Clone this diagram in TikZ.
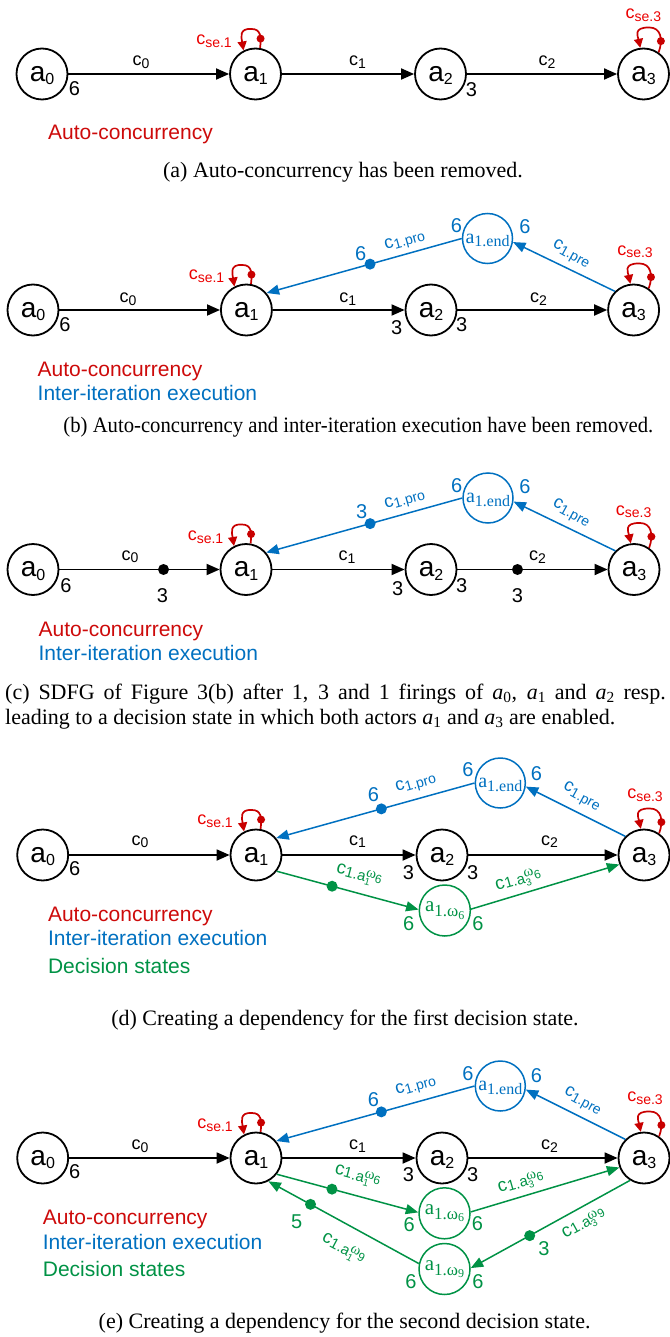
\documentclass[tikz,border=0pt]{standalone}
\usepackage{fontspec}
\usepackage{graphicx}
\setmainfont{Liberation Sans}
\newfontfamily\capfont{Liberation Serif}
\usetikzlibrary{arrows.meta,calc}
\definecolor{loopred}{RGB}{200,0,0}
\definecolor{labred}{RGB}{235,0,0}
\definecolor{legred}{RGB}{205,10,10}
\definecolor{myblue}{RGB}{0,112,192}
\definecolor{mygreen}{RGB}{0,146,69}
\newcommand\nA[1]{{\fontsize{28}{28}\selectfont a\smash{\raisebox{-3.5pt}{\fontsize{16}{16}\selectfont #1}}}}
\newcommand\nC[1]{{\fontsize{18}{18}\selectfont c\raisebox{-2.5pt}{\fontsize{14}{14}\selectfont #1}}}
\newcommand\nN[1]{{\fontsize{20}{20}\selectfont #1}}
\newcommand\nS[1]{{\capfont\fontsize{20}{20}\selectfont a\smash{\raisebox{-3.5pt}{\fontsize{16}{16}\selectfont #1}}}}
\newcommand\nW[1]{{\capfont\fontsize{21}{21}\selectfont a\raisebox{-5pt}{\fontsize{17}{17}\selectfont 1.ω}\raisebox{-7.5pt}{\fontsize{12}{12}\selectfont #1}}}
\newcommand\nCW[2]{{\fontsize{18.5}{18.5}\selectfont c\raisebox{-1.5pt}{\fontsize{15}{15}\selectfont 1.a}\rlap{\raisebox{-4.5pt}{\fontsize{10}{10}\selectfont #1}}\raisebox{4pt}{\capfont\fontsize{15}{15}\selectfont ω}{\fontsize{12}{12}\selectfont #2}}}
\newcommand\nI[1]{\textit{a}\textsubscript{#1}}
\newcommand\loopL[2]{\draw[slf] (#1.80) .. controls ($(#1)+(6,-38)$) and ($(#1)+(5,-45)$) .. ($(#1)+(-4,-45)$) node[rtok,pos=.3] (#2) {} .. controls ($(#1)+(-17,-46)$) and ($(#1)+(-14,-36)$) .. (#1.117);}
\newcommand\loopR[2]{\draw[slf] (#1.55) .. controls ($(#1)+(20,-35)$) and ($(#1)+(17,-46.5)$) .. ($(#1)+(6,-46.5)$) node[rtok,pos=.3] (#2) {} .. controls ($(#1)+(-11,-47)$) and ($(#1)+(-5.5,-37)$) .. (#1.97);}
\begin{document}
\begin{tikzpicture}[x=1pt,y=-1pt,
  act/.style={circle,draw,line width=1.8pt,minimum size=51pt,inner sep=0pt},
  bact/.style={circle,draw=myblue,line width=1.5pt,minimum size=50pt,inner sep=0pt,text=myblue},
  gact/.style={circle,draw=mygreen,line width=1.5pt,minimum size=51pt,inner sep=0pt,text=mygreen},
  blk/.style={line width=1.8pt,-{Triangle[length=13pt,width=11pt]}},
  blu/.style={myblue,line width=1.5pt,-{Triangle[length=12.5pt,width=10pt]}},
  grn/.style={mygreen,line width=1.5pt,-{Triangle[length=12.5pt,width=10pt]}},
  slf/.style={loopred,line width=1.7pt,-{Triangle[length=9pt,width=9pt]}},
  tok/.style={circle,fill,inner sep=0pt,minimum size=11pt},
  rtok/.style={circle,fill=loopred,inner sep=0pt,minimum size=8pt},
  lab/.style={inner sep=0pt},
  leg/.style={inner sep=0pt,anchor=base west,font={\fontsize{21}{21}\selectfont}},
  captxt/.style={inner sep=0pt,anchor=base,font={\capfont\fontsize{22}{22}\selectfont}},
]
\useasboundingbox (0,0) rectangle (669,1337);

% ---------------- (a)
\node[act] (a0a) at (42,74) {\nA{0}};
\node[act] (a1a) at (255.5,74) {\nA{1}};
\node[act] (a2a) at (440.5,74) {\nA{2}};
\node[act] (a3a) at (643.5,74) {\nA{3}};
\draw[blk] (a0a) -- (a1a);
\draw[blk] (a1a) -- (a2a);
\draw[blk] (a2a) -- (a3a);
\node[lab] (c0a) at (141,62) {\nC{0}};
\node[lab] (c1a) at (357.5,62) {\nC{1}};
\node[lab] (c2a) at (547,62) {\nC{2}};
\node[lab] (n0a) at (74.5,89) {\nN{6}};
\node[lab] (n2a) at (471.5,90) {\nN{3}};
\loopL{a1a}{r1a}
\loopR{a3a}{r3a}
\node[lab,text=labred] (s1a) at (214,41) {\nC{se.1}};
\node[lab,text=labred] (s3a) at (643.3,15) {\nC{se.3}};
\node[leg,text=legred] (la1) at (48,139.3) {Auto-concurrency};
\node[captxt] (capa) at (343,178) {(a) Auto-concurrency has been removed.};

% ---------------- (b)
\node[act] (a0b) at (33,310) {\nA{0}};
\node[act] (a1b) at (246.4,310) {\nA{1}};
\node[act] (a2b) at (431,310) {\nA{2}};
\node[act] (a3b) at (633.6,310) {\nA{3}};
\node[bact] (eb) at (487.5,238.5) {\nS{1.end}};
\draw[blk] (a0b) -- (a1b);
\draw[blk] (a1b) -- (a2b);
\draw[blk] (a2b) -- (a3b);
\node[lab] (c0b) at (128,299) {\nC{0}};
\node[lab] (c1b) at (347.8,299) {\nC{1}};
\node[lab] (c2b) at (538.5,299) {\nC{2}};
\node[lab] (n0b) at (65,325) {\nN{6}};
\node[lab] (n1b) at (396.8,328) {\nN{3}};
\node[lab] (n2b) at (461.7,325) {\nN{3}};
\draw[blu] (eb.180) -- (a1b.40) node[tok,pos=.47] (tb) {};
\node[lab,text=myblue] (ntb) at ($(tb)+(-9.4,-11)$) {\nN{6}};
\node[lab,text=myblue,rotate=16] (cpb) at (405,241.5) {\nC{1.pro}};
\node[lab,text=myblue] (nelb) at (456.5,226) {\nN{6}};
\node[lab,text=myblue] (nerb) at (525,227) {\nN{6}};
\draw[blu] (a3b.135) -- (eb.-8);
\node[lab,text=myblue,rotate=-29] (cqb) at (571,254.5) {\nC{1.pre}};
\loopL{a1b}{r1b}
\loopR{a3b}{r3b}
\node[lab,text=labred] (s1b) at (206.5,276) {\nC{se.1}};
\node[lab,text=labred] (s3b) at (635,251.7) {\nC{se.3}};
\node[leg,text=legred] (lb1) at (37.5,376.5) {Auto-concurrency};
\node[leg,text=myblue] (lb2) at (37.5,400) {Inter-iteration execution};
\node[captxt] (capb) at (358.4,432) {\scalebox{0.94}[1]{(b) Auto-concurrency and inter-iteration execution have been removed.}};

% ---------------- (c)
\node[act] (a0c) at (33,569.5) {\nA{0}};
\node[act] (a1c) at (246,569.5) {\nA{1}};
\node[act] (a2c) at (431,569.5) {\nA{2}};
\node[act] (a3c) at (634,569.5) {\nA{3}};
\node[bact] (ec) at (488,498) {\nS{1.end}};
\draw[blk] (a0c) -- (a1c) node[tok,pos=.65] (t0c) {};
\draw[blk] (a1c) -- (a2c);
\draw[blk] (a2c) -- (a3c) node[tok,pos=.4] (t2c) {};
\node[lab] (c0c) at (130,556.7) {\nC{0}};
\node[lab] (c1c) at (347,557) {\nC{1}};
\node[lab] (c2c) at (537.6,557) {\nC{2}};
\node[lab] (n0c) at (66,586) {\nN{6}};
\node[lab] (n1c) at (397.7,588.3) {\nN{3}};
\node[lab] (n2c) at (461.7,586) {\nN{3}};
\node[lab] (nt0c) at ($(t0c)+(-1,25.7)$) {\nN{3}};
\node[lab] (nt2c) at ($(t2c)+(0,26)$) {\nN{3}};
\draw[blu] (ec.180) -- (a1c.40) node[tok,pos=.47] (tc) {};
\node[lab,text=myblue] (ntc) at ($(tc)+(-8.5,-12)$) {\nN{3}};
\node[lab,text=myblue,rotate=16] (cpc) at (405,500.5) {\nC{1.pro}};
\node[lab,text=myblue] (nelc) at (456.6,486) {\nN{6}};
\node[lab,text=myblue] (nerc) at (525,487) {\nN{6}};
\draw[blu] (a3c.135) -- (ec.-8);
\node[lab,text=myblue,rotate=-29] (cqc) at (571,513.5) {\nC{1.pre}};
\loopL{a1c}{r1c}
\loopR{a3c}{r3c}
\node[lab,text=labred] (s1c) at (205.5,537.3) {\nC{se.1}};
\node[lab,text=labred] (s3c) at (633.6,511.7) {\nC{se.3}};
\node[leg,text=legred] (lc1) at (38.4,636.8) {Auto-concurrency};
\node[leg,text=myblue] (lc2) at (38.4,660.2) {Inter-iteration execution};
\node[captxt,anchor=base west] (capc1) at (5,699) {\makebox[660.6pt][s]{(c) SDFG of Figure 3(b) after 1, 3 and 1 firings of \nI{0}, \nI{1} and \nI{2} resp.}};
\node[captxt,anchor=base west] (capc2) at (5,724) {leading to a decision state in which both actors \nI{1} and \nI{3} are enabled.};

% ---------------- (d)
\node[act] (a0d) at (42.7,855) {\nA{0}};
\node[act] (a1d) at (256,855) {\nA{1}};
\node[act] (a2d) at (442,855) {\nA{2}};
\node[act] (a3d) at (644,855) {\nA{3}};
\node[bact] (ed) at (500.3,783) {\nS{1.end}};
\node[gact] (wd) at (444.8,910.5) {\nW{6}};
\draw[blk] (a0d) -- (a1d);
\draw[blk] (a1d) -- (a2d);
\draw[blk] (a2d) -- (a3d);
\node[lab] (c0d) at (140,841.7) {\nC{0}};
\node[lab] (c1d) at (357.6,841.7) {\nC{1}};
\node[lab] (c2d) at (549.6,841.7) {\nC{2}};
\node[lab] (n0d) at (74.7,869) {\nN{6}};
\node[lab] (n1d) at (408.4,872.7) {\nN{3}};
\node[lab] (n2d) at (472.8,872.7) {\nN{3}};
\draw[blu] (ed.180) -- (a1d.40) node[tok,pos=.47] (td) {};
\node[lab,text=myblue] (ntd) at (373.4,795) {\nN{6}};
\node[lab,text=myblue,rotate=16] (cpd) at (416,784) {\nC{1.pro}};
\node[lab,text=myblue] (neld) at (468,770) {\nN{6}};
\node[lab,text=myblue] (nerd) at (536.4,773.3) {\nN{6}};
\draw[blu] (a3d.135) -- (ed.-8);
\node[lab,text=myblue,rotate=-29] (cqd) at (581.5,797) {\nC{1.pre}};
\draw[grn] (a1d.-38) -- (wd.178) node[tok,pos=.39] (gd) {};
\node[lab,text=mygreen,rotate=-15] (g1d) at (359,875.5) {\nCW{1}{6}};
\draw[grn] (wd.3) -- (a3d.-159);
\node[lab,text=mygreen,rotate=16] (g3d) at (518.4,880.5) {\nCW{3}{6}};
\node[lab,text=mygreen] (nwld) at (408.8,924) {\nN{6}};
\node[lab,text=mygreen] (nwrd) at (477.9,924) {\nN{6}};
\loopL{a1d}{r1d}
\loopR{a3d}{r3d}
\node[lab,text=labred] (s1d) at (215,821) {\nC{se.1}};
\node[lab,text=labred] (s3d) at (645,795) {\nC{se.3}};
\node[leg,text=legred] (ld1) at (47.8,921.7) {Auto-concurrency};
\node[leg,text=myblue] (ld2) at (47.8,945.7) {Inter-iteration execution};
\node[leg,text=mygreen] (ld3) at (47.8,973.3) {Decision states};
\node[captxt] (capd) at (345,1025) {(d) Creating a dependency for the first decision state.};

% ---------------- (e)
\node[act] (a0e) at (42.7,1158) {\nA{0}};
\node[act] (a1e) at (256,1158) {\nA{1}};
\node[act] (a2e) at (442,1158) {\nA{2}};
\node[act] (a3e) at (644,1158) {\nA{3}};
\node[bact] (ee) at (500.3,1086) {\nS{1.end}};
\node[gact] (w6e) at (444.5,1213.3) {\nW{6}};
\node[gact] (w9e) at (444.5,1269) {\nW{9}};
\draw[blk] (a0e) -- (a1e);
\draw[blk] (a1e) -- (a2e);
\draw[blk] (a2e) -- (a3e);
\node[lab] (c0e) at (140,1146) {\nC{0}};
\node[lab] (c1e) at (357.6,1146) {\nC{1}};
\node[lab] (c2e) at (549.6,1146) {\nC{2}};
\node[lab] (n0e) at (74.7,1171.7) {\nN{6}};
\node[lab] (n1e) at (408.4,1175) {\nN{3}};
\node[lab] (n2e) at (472.8,1175) {\nN{3}};
\draw[blu] (ee.180) -- (a1e.40) node[tok,pos=.47] (te) {};
\node[lab,text=myblue] (nte) at (373.4,1099.3) {\nN{6}};
\node[lab,text=myblue,rotate=16] (cpe) at (416,1086.5) {\nC{1.pro}};
\node[lab,text=myblue] (nele) at (468,1073.3) {\nN{6}};
\node[lab,text=myblue] (nere) at (536.4,1076) {\nN{6}};
\draw[blu] (a3e.135) -- (ee.-8);
\node[lab,text=myblue,rotate=-29] (cqe) at (582.5,1101.5) {\nC{1.pre}};
\draw[grn] (a1e.-38) -- (w6e.178) node[tok,pos=.39] (g6e) {};
\node[lab,text=mygreen,rotate=-15] (g1e) at (357.5,1176) {\nCW{1}{6}};
\draw[grn] (w6e.3) -- (a3e.-159);
\node[lab,text=mygreen,rotate=16] (g3e) at (521,1183) {\nCW{3}{6}};
\node[lab,text=mygreen] (nw6l) at (409.2,1225) {\nN{6}};
\node[lab,text=mygreen] (nw6r) at (477.5,1223.3) {\nN{6}};
\draw[grn] (w9e.168) -- (a1e.-62) node[tok,pos=.72] (g9e) {};
\node[lab,text=mygreen] (n5e) at (296.7,1221.7) {\nN{5}};
\node[lab,text=mygreen,rotate=-28] (g19e) at (343.3,1249) {\nCW{1}{9}};
\draw[grn] (a3e.238) -- (w9e.2) node[tok,pos=.63] (g39t) {};
\node[lab,text=mygreen] (n3e) at (544,1248.3) {\nN{3}};
\node[lab,text=mygreen,rotate=29] (g39e) at (584,1224) {\nCW{3}{9}};
\node[lab,text=mygreen] (nw9l) at (411,1281.7) {\nN{6}};
\node[lab,text=mygreen] (nw9r) at (478,1281.7) {\nN{6}};
\loopL{a1e}{r1e}
\loopR{a3e}{r3e}
\node[lab,text=labred] (s1e) at (215,1125) {\nC{se.1}};
\node[lab,text=labred] (s3e) at (645,1098.3) {\nC{se.3}};
\node[leg,text=legred] (le1) at (42.7,1224) {Auto-concurrency};
\node[leg,text=myblue] (le2) at (42.7,1249.3) {Inter-iteration execution};
\node[leg,text=mygreen] (le3) at (42.7,1276.7) {Decision states};
\node[captxt] (cape) at (344.6,1328) {(e) Creating a dependency for the second decision state.};
\end{tikzpicture}
\end{document}
